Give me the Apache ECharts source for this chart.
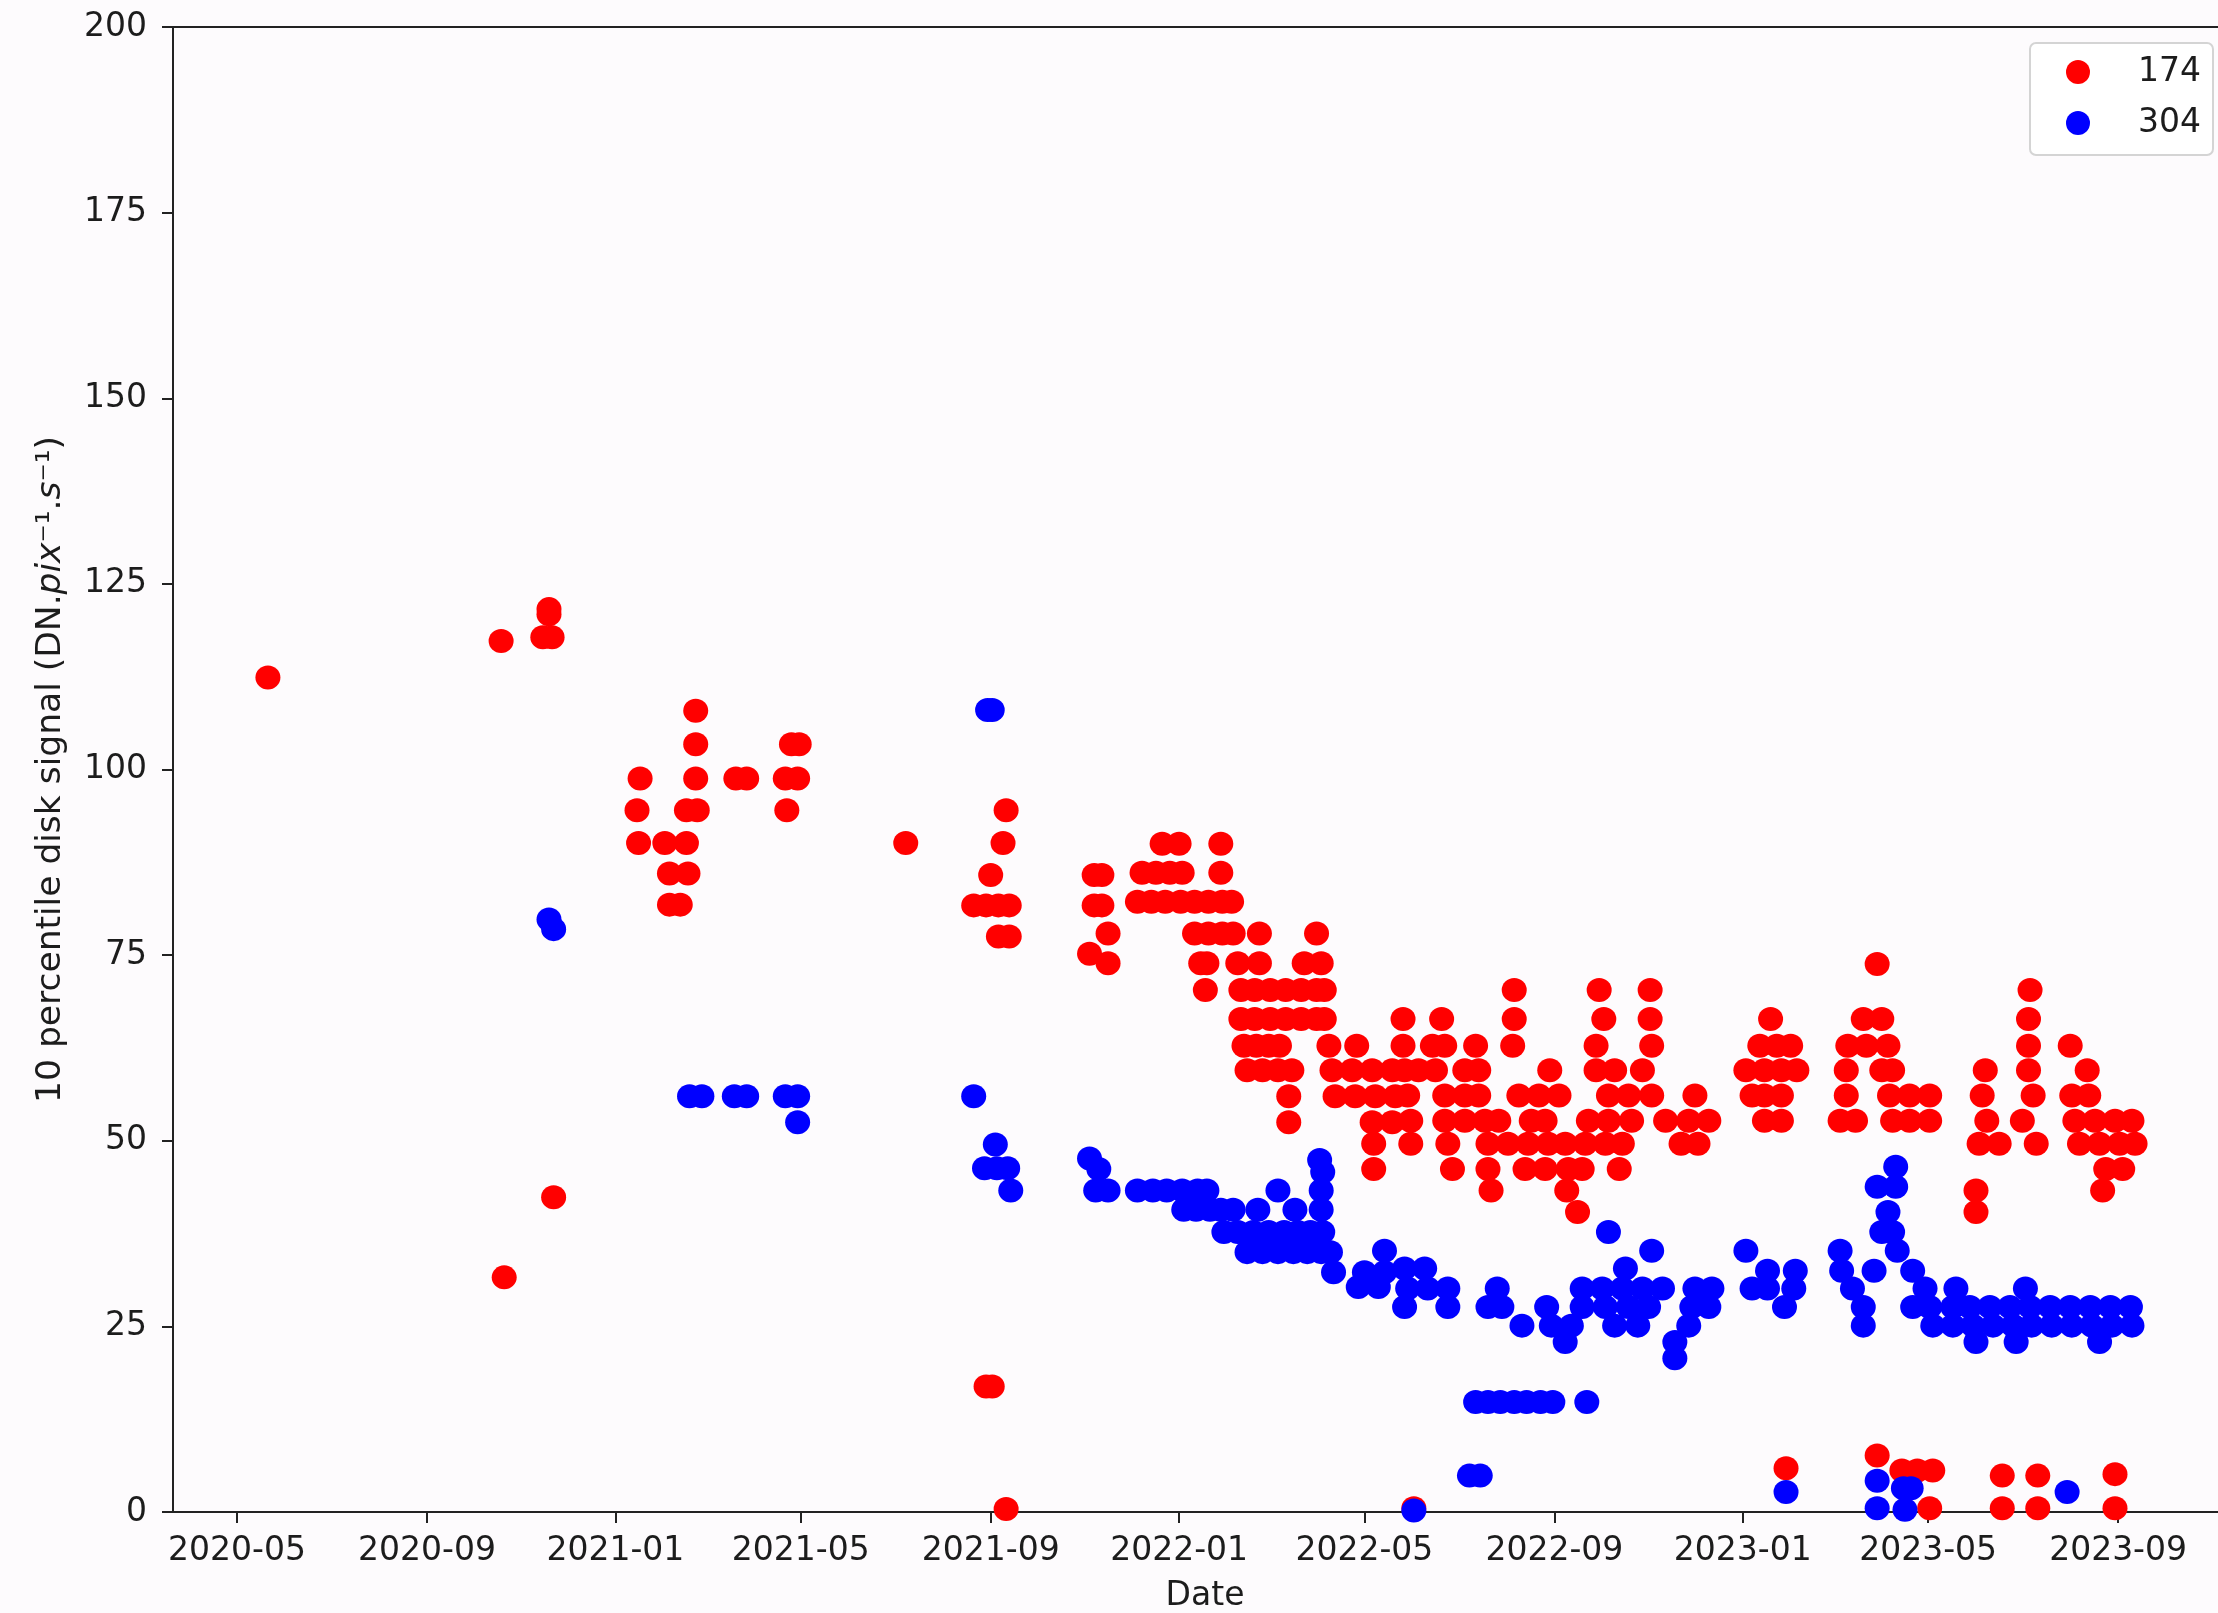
<!DOCTYPE html>
<html>
<head>
<meta charset="utf-8">
<script src="https://cdn.jsdelivr.net/npm/echarts@6/dist/echarts.min.js"></script>
<style>
html,body{margin:0;padding:0;overflow:hidden;background:#fdfbfd;}
#chart{width:2260px;height:1613px;}
</style>
</head>
<body>
<div id="chart"></div>
<script>
// ---- DATA ----
const xTickLabels = ['2020-05','2020-09','2021-01','2021-05','2021-09','2022-01','2022-05','2022-09','2023-01','2023-05','2023-09'];
const legendNames = ['174','304'];

const series174 = [
 ['2020-05-21',112.4],
 ['2020-10-19',117.3],['2020-10-21',31.6],
 ['2020-11-15',117.8],['2020-11-21',117.8],['2020-11-19',120.9],['2020-11-19',121.6],['2020-11-22',42.4],
 ['2021-01-15',94.5],['2021-01-16',90.1],['2021-01-17',98.8],
 ['2021-02-02',90.1],['2021-02-16',90.1],
 ['2021-02-05',86.0],['2021-02-17',86.0],
 ['2021-02-05',81.8],['2021-02-12',81.8],
 ['2021-02-16',94.5],['2021-02-23',94.5],
 ['2021-02-22',98.8],['2021-02-22',103.4],['2021-02-22',107.9],
 ['2021-03-20',98.8],['2021-03-27',98.8],
 ['2021-04-21',98.8],['2021-04-29',98.8],['2021-04-22',94.5],
 ['2021-04-25',103.4],['2021-04-30',103.4],
 ['2021-07-08',90.1],
 ['2021-08-21',81.7],['2021-08-29',81.7],['2021-09-06',81.7],['2021-09-13',81.7],
 ['2021-09-01',85.8],['2021-09-09',90.1],['2021-09-11',94.5],
 ['2021-09-06',77.5],['2021-09-13',77.5],
 ['2021-08-29',16.9],['2021-09-02',16.9],['2021-09-11',0.4],
 ['2021-11-04',75.2],['2021-11-07',85.8],['2021-11-12',85.8],['2021-11-07',81.7],['2021-11-12',81.7],
 ['2021-11-16',77.9],['2021-11-16',73.9],
 ['2021-12-21',90.0],['2022-01-01',90.0],['2022-01-28',90.0],
 ['2021-12-08',86.1],['2021-12-17',86.1],['2021-12-26',86.1],['2022-01-03',86.1],['2022-01-28',86.1],
 ['2021-12-05',82.2],['2021-12-14',82.2],['2021-12-23',82.2],['2022-01-02',82.2],['2022-01-11',82.2],['2022-01-20',82.2],['2022-01-29',82.2],['2022-02-04',82.2],
 ['2022-01-11',77.9],['2022-01-20',77.9],['2022-01-29',77.9],['2022-02-05',77.9],['2022-02-22',77.9],['2022-03-31',77.9],
 ['2022-01-15',73.9],['2022-01-19',73.9],['2022-02-08',73.9],['2022-02-22',73.9],['2022-03-23',73.9],['2022-04-03',73.9],
 ['2022-01-18',70.3],['2022-02-10',70.3],['2022-02-19',70.3],['2022-03-01',70.3],['2022-03-11',70.3],['2022-03-21',70.3],['2022-03-31',70.3],['2022-04-05',70.3],
 ['2022-02-10',66.4],['2022-02-19',66.4],['2022-03-01',66.4],['2022-03-11',66.4],['2022-03-21',66.4],['2022-03-31',66.4],['2022-04-05',66.4],
 ['2022-02-12',62.8],['2022-02-20',62.8],['2022-02-28',62.8],['2022-03-07',62.8],['2022-04-08',62.8],['2022-04-26',62.8],
 ['2022-02-14',59.5],['2022-02-24',59.5],['2022-03-06',59.5],['2022-03-15',59.5],['2022-04-10',59.5],['2022-04-23',59.5],['2022-05-06',59.5],['2022-05-19',59.5],
 ['2022-03-13',56.0],['2022-04-12',56.0],['2022-04-25',56.0],['2022-05-08',56.0],['2022-05-21',56.0],
 ['2022-03-13',52.5],['2022-05-06',52.5],['2022-05-19',52.5],
 ['2022-05-07',49.6],['2022-05-07',46.2],
 ['2022-08-06',70.3],['2022-09-30',70.3],['2022-11-02',70.3],
 ['2022-05-26',66.4],['2022-06-20',66.4],['2022-08-06',66.4],['2022-10-03',66.4],['2022-11-02',66.4],
 ['2022-05-26',62.8],['2022-06-14',62.8],['2022-06-22',62.8],['2022-07-12',62.8],['2022-08-05',62.8],['2022-09-28',62.8],['2022-11-03',62.8],
 ['2022-05-27',59.5],['2022-06-05',59.5],['2022-06-16',59.5],['2022-07-05',59.5],['2022-07-14',59.5],['2022-08-29',59.5],['2022-09-28',59.5],['2022-10-10',59.5],['2022-10-28',59.5],['2023-01-03',59.5],
 ['2022-05-29',56.1],['2022-06-22',56.1],['2022-07-05',56.1],['2022-07-14',56.1],['2022-08-09',56.1],['2022-08-22',56.1],['2022-09-04',56.1],['2022-10-06',56.1],['2022-10-19',56.1],['2022-11-03',56.1],['2022-12-01',56.1],['2023-01-07',56.1],
 ['2022-05-31',52.7],['2022-06-22',52.7],['2022-07-05',52.7],['2022-07-18',52.7],['2022-07-27',52.7],['2022-08-17',52.7],['2022-08-26',52.7],['2022-09-23',52.7],['2022-10-06',52.7],['2022-10-21',52.7],['2022-11-12',52.7],['2022-11-27',52.7],['2022-12-10',52.7],
 ['2022-05-31',49.6],['2022-06-24',49.6],['2022-07-20',49.6],['2022-08-02',49.6],['2022-08-15',49.6],['2022-08-28',49.6],['2022-09-08',49.6],['2022-09-21',49.6],['2022-10-04',49.6],['2022-10-15',49.6],['2022-11-22',49.6],['2022-12-03',49.6],
 ['2022-06-27',46.2],['2022-07-20',46.2],['2022-08-13',46.2],['2022-08-26',46.2],['2022-09-10',46.2],['2022-09-19',46.2],['2022-10-13',46.2],
 ['2022-07-22',43.3],['2022-09-09',43.3],['2022-09-16',40.4],
 ['2023-03-29',73.8],['2023-07-06',70.3],
 ['2023-01-19',66.4],['2023-03-20',66.4],['2023-04-01',66.4],['2023-07-05',66.4],
 ['2023-01-12',62.8],['2023-01-23',62.8],['2023-02-01',62.8],['2023-03-10',62.8],['2023-03-22',62.8],['2023-04-05',62.8],['2023-07-05',62.8],['2023-08-01',62.8],
 ['2023-01-15',59.5],['2023-01-26',59.5],['2023-02-05',59.5],['2023-03-09',59.5],['2023-04-01',59.5],['2023-04-08',59.5],['2023-06-07',59.5],['2023-07-05',59.5],['2023-08-12',59.5],
 ['2023-01-15',56.1],['2023-01-26',56.1],['2023-03-09',56.1],['2023-04-06',56.1],['2023-04-19',56.1],['2023-05-02',56.1],['2023-06-05',56.1],['2023-07-08',56.1],['2023-08-02',56.1],['2023-08-13',56.1],
 ['2023-01-15',52.7],['2023-01-26',52.7],['2023-03-05',52.7],['2023-03-15',52.7],['2023-04-08',52.7],['2023-04-19',52.7],['2023-05-02',52.7],['2023-06-08',52.7],['2023-07-01',52.7],['2023-08-04',52.7],['2023-08-17',52.7],['2023-08-30',52.7],['2023-09-10',52.7],
 ['2023-06-03',49.6],['2023-06-16',49.6],['2023-07-10',49.6],['2023-08-07',49.6],['2023-08-20',49.6],['2023-09-02',49.6],['2023-09-12',49.6],
 ['2023-08-24',46.2],['2023-09-04',46.2],
 ['2023-06-01',43.3],['2023-08-22',43.3],['2023-06-01',40.4],
 ['2022-06-02',0.5],
 ['2023-01-29',5.9],['2023-03-29',7.6],['2023-04-14',5.6],['2023-04-24',5.6],['2023-05-04',5.6],['2023-05-02',0.5],
 ['2023-06-18',4.9],['2023-06-18',0.5],['2023-07-11',4.9],['2023-07-11',0.5],['2023-08-30',5.1],['2023-08-30',0.5]
];

const series304 = [
 ['2020-11-19',79.8],['2020-11-22',78.5],
 ['2021-02-18',56.0],['2021-02-26',56.0],['2021-03-19',56.0],['2021-03-27',56.0],['2021-04-21',56.0],['2021-04-29',56.0],['2021-04-29',52.5],
 ['2021-08-30',108.0],['2021-09-02',108.0],
 ['2021-08-21',56.0],['2021-09-04',49.5],['2021-08-28',46.3],['2021-09-05',46.3],['2021-09-12',46.3],['2021-09-14',43.3],
 ['2021-11-04',47.6],['2021-11-10',46.2],['2021-11-08',43.3],['2021-11-16',43.3],
 ['2021-12-05',43.3],['2021-12-15',43.3],['2021-12-24',43.3],['2022-01-03',43.3],['2022-01-13',43.3],['2022-01-19',43.3],
 ['2022-03-06',43.3],['2022-04-03',43.3],['2022-04-02',47.4],['2022-04-04',45.8],
 ['2022-01-04',40.7],['2022-01-12',40.7],['2022-01-21',40.7],['2022-01-28',40.7],['2022-02-05',40.7],['2022-02-21',40.7],['2022-03-17',40.7],['2022-04-03',40.7],
 ['2022-01-30',37.7],['2022-02-08',37.7],['2022-02-18',37.7],['2022-02-28',37.7],['2022-03-10',37.7],['2022-03-19',37.7],['2022-03-27',37.7],['2022-04-04',37.7],
 ['2022-02-14',35.0],['2022-02-24',35.0],['2022-03-06',35.0],['2022-03-16',35.0],['2022-03-25',35.0],['2022-04-03',35.0],['2022-04-09',35.0],['2022-05-14',35.2],
 ['2022-04-11',32.3],['2022-05-01',32.3],['2022-05-14',32.3],
 ['2022-04-27',30.3],['2022-05-10',30.3],
 ['2022-10-06',37.7],['2022-11-03',35.2],['2023-01-03',35.2],
 ['2022-05-27',32.8],['2022-06-09',32.8],['2022-10-17',32.8],
 ['2022-05-29',30.1],['2022-06-11',30.1],['2022-06-24',30.1],['2022-07-26',30.1],['2022-09-19',30.1],['2022-10-02',30.1],['2022-10-15',30.1],['2022-10-28',30.1],['2022-11-10',30.1],['2022-12-01',30.1],['2022-12-12',30.1],['2023-01-07',30.1],
 ['2022-05-27',27.6],['2022-06-24',27.6],['2022-07-20',27.6],['2022-07-29',27.6],['2022-08-27',27.6],['2022-09-19',27.6],['2022-10-04',27.6],['2022-10-19',27.6],['2022-11-01',27.6],['2022-11-29',27.6],['2022-12-10',27.6],
 ['2022-08-11',25.1],['2022-08-30',25.1],['2022-09-12',25.1],['2022-10-10',25.1],['2022-10-25',25.1],['2022-11-27',25.1],
 ['2022-09-08',22.9],['2022-11-18',22.9],['2022-11-18',20.7],
 ['2022-07-12',14.8],['2022-07-20',14.8],['2022-07-28',14.8],['2022-08-06',14.8],['2022-08-14',14.8],['2022-08-23',14.8],['2022-08-31',14.8],['2022-09-22',14.8],
 ['2022-07-08',4.9],['2022-07-15',4.9],['2022-06-02',0.2],
 ['2023-04-10',46.5],['2023-03-29',43.8],['2023-04-10',43.8],['2023-04-05',40.4],['2023-04-01',37.7],['2023-04-08',37.7],['2023-03-05',35.2],['2023-04-11',35.2],
 ['2023-01-17',32.5],['2023-02-04',32.5],['2023-03-06',32.5],['2023-03-27',32.5],['2023-04-21',32.5],
 ['2023-01-17',30.1],['2023-02-03',30.1],['2023-03-13',30.1],['2023-04-29',30.1],['2023-05-19',30.1],['2023-07-03',30.1],
 ['2023-01-28',27.6],['2023-03-20',27.6],['2023-04-21',27.6],['2023-05-02',27.6],['2023-05-17',27.6],['2023-05-28',27.6],['2023-06-10',27.6],['2023-06-23',27.6],['2023-07-06',27.6],['2023-07-19',27.6],['2023-08-01',27.6],['2023-08-14',27.6],['2023-08-27',27.6],['2023-09-09',27.6],
 ['2023-03-20',25.1],['2023-05-04',25.1],['2023-05-17',25.1],['2023-05-30',25.1],['2023-06-12',25.1],['2023-06-25',25.1],['2023-07-07',25.1],['2023-07-20',25.1],['2023-08-02',25.1],['2023-08-15',25.1],['2023-08-28',25.1],['2023-09-10',25.1],
 ['2023-06-01',22.9],['2023-06-27',22.9],['2023-08-20',22.9],
 ['2023-01-29',2.7],['2023-03-29',4.2],['2023-03-29',0.5],['2023-04-15',3.2],['2023-04-20',3.2],['2023-04-16',0.3],['2023-07-30',2.7]
];

// ---- CHART ----
const FONT = 'DejaVu Sans';
const TXT = '#1c1c1c';
const ts = s => { const p = s.split('-').map(Number); return new Date(p[0], p[1] - 1, p[2] || 1).getTime(); };
const tickValues = xTickLabels.map(ts);
const pad2 = n => (n < 10 ? '0' : '') + n;
const toXY = arr => arr.map(d => [ts(d[0]), d[1]]);

const chart = echarts.init(document.getElementById('chart'), null, {renderer: 'canvas'});
chart.setOption({
  animation: false,
  backgroundColor: '#fdfbfd',
  grid: {left: 173, right: 23, top: 27, bottom: 101, show: true, borderColor: '#222', borderWidth: 2,
         backgroundColor: 'transparent', containLabel: false, outerBoundsMode: 'none'},
  legend: {
    data: legendNames,
    orient: 'vertical', left: 2030, top: 43,
    icon: 'circle', itemWidth: 24, itemHeight: 24, itemGap: 11,
    padding: [9, 12, 12, 36],
    backgroundColor: '#ffffff', borderColor: '#d4d4d4', borderWidth: 2, borderRadius: 6,
    textStyle: {fontFamily: FONT, fontSize: 33, color: TXT, lineHeight: 40, padding: [0, 0, 0, 43]}
  },
  xAxis: {
    type: 'value',
    min: new Date(2020, 2, 20, 13).getTime(),
    max: new Date(2023, 10, 17).getTime(),
    name: 'Date', nameLocation: 'middle', nameGap: 68,
    nameTextStyle: {fontFamily: FONT, fontSize: 33, color: TXT},
    axisLine: {show: true, onZero: false, lineStyle: {color: '#222', width: 2}},
    axisTick: {show: true, length: 11, lineStyle: {color: '#222', width: 2}, customValues: tickValues},
    axisLabel: {
      customValues: tickValues, fontFamily: FONT, fontSize: 33, color: TXT, margin: 23,
      formatter: v => { const d = new Date(v); return d.getFullYear() + '-' + pad2(d.getMonth() + 1); }
    },
    splitLine: {show: false}
  },
  yAxis: {
    type: 'value', min: 0, max: 200, interval: 25,
    name: '{a|10 percentile disk signal (DN.}{i|pix}{a|⁻¹.}{i|s}{a|⁻¹)}',
    nameLocation: 'middle', nameGap: 104, nameRotate: 90,
    nameTextStyle: {
      fontFamily: FONT, fontSize: 34.5, color: TXT,
      rich: {
        a: {fontFamily: FONT, fontSize: 34.5, color: TXT},
        i: {fontFamily: FONT, fontSize: 34.5, color: TXT, fontStyle: 'italic'}
      }
    },
    axisLine: {show: true, onZero: false, lineStyle: {color: '#222', width: 2}},
    axisTick: {show: true, length: 11, lineStyle: {color: '#222', width: 2}},
    axisLabel: {fontFamily: FONT, fontSize: 33, color: TXT, margin: 26},
    splitLine: {show: false}
  },
  series: [
    {name: legendNames[0], type: 'scatter', data: toXY(series174), symbol: 'circle', symbolSize: [25, 24],
     itemStyle: {color: '#ff0000', opacity: 1}, emphasis: {disabled: true}},
    {name: legendNames[1], type: 'scatter', data: toXY(series304), symbol: 'circle', symbolSize: [25, 24],
     itemStyle: {color: '#0000ff', opacity: 1}, emphasis: {disabled: true}}
  ]
});
</script>
</body>
</html>
